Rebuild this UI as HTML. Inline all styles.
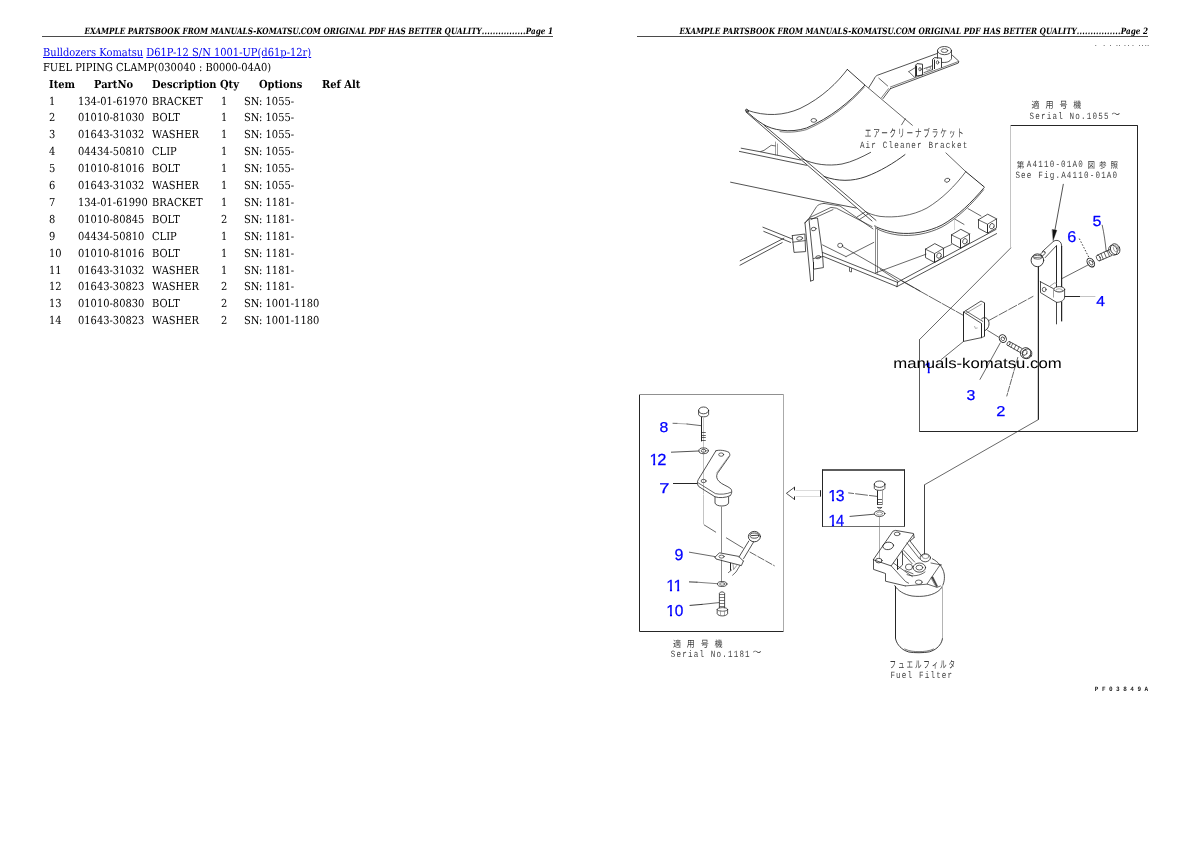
<!DOCTYPE html>
<html lang="en"><head><meta charset="utf-8"><title>FUEL PIPING CLAMP</title>
<style>
html,body{margin:0;padding:0;background:#fff;}
body{width:1190px;height:842px;position:relative;overflow:hidden;font-family:"DejaVu Serif","Liberation Serif",serif;color:#000;}
#page{position:absolute;left:0;top:0;width:1190px;height:842px;will-change:transform;background:#fff;text-rendering:geometricPrecision;}
.t{position:absolute;white-space:nowrap;line-height:1;}
.hd{font-style:italic;font-weight:bold;font-size:8.7px;text-align:right;width:600px;transform:scaleX(0.8352);transform-origin:100% 50%;}
.rule{position:absolute;height:1px;background:#4a4a4a;width:511px;}
.b{font-size:11px;transform:scaleX(0.9);transform-origin:0 0;}
.th{font-weight:bold;}
a{color:#0000ee;text-decoration:underline;text-underline-offset:1px;text-decoration-thickness:1px;}
svg{position:absolute;left:0;top:0;}
</style></head>
<body>
<div id="page">
<div class="t hd" style="left:-46.6px;top:27.5px">EXAMPLE PARTSBOOK FROM MANUALS-KOMATSU.COM ORIGINAL PDF HAS BETTER QUALITY<span style="letter-spacing:0.27px">................</span>Page 1</div>
<div class="rule" style="left:42px;top:36px"></div>
<div class="t hd" style="left:548.4px;top:27.5px">EXAMPLE PARTSBOOK FROM MANUALS-KOMATSU.COM ORIGINAL PDF HAS BETTER QUALITY<span style="letter-spacing:0.27px">................</span>Page 2</div>
<div class="rule" style="left:637px;top:36px"></div>
<div class="t b" style="left:42.6px;top:47.2px;"><a>Bulldozers Komatsu</a> <a>D61P-12 S/N 1001-UP(d61p-12r)</a></div>
<div class="t b" style="left:42.6px;top:61.7px;">FUEL PIPING CLAMP(030040 : B0000-04A0)</div>
<div class="t b th" style="left:48.8px;top:78.8px;">Item</div>
<div class="t b th" style="left:94.3px;top:78.8px;">PartNo</div>
<div class="t b th" style="left:152.3px;top:78.8px;">Description</div>
<div class="t b th" style="left:219.8px;top:78.8px;">Qty</div>
<div class="t b th" style="left:258.6px;top:78.8px;">Options</div>
<div class="t b th" style="left:322.2px;top:78.8px;">Ref Alt</div>
<div class="t b" style="left:49.4px;top:96.0px;">1</div>
<div class="t b" style="left:78.4px;top:96.0px;">134-01-61970</div>
<div class="t b" style="left:152.3px;top:96.0px;">BRACKET</div>
<div class="t b" style="left:220.8px;top:96.0px;">1</div>
<div class="t b" style="left:243.5px;top:96.0px;">SN: 1055-</div>
<div class="t b" style="left:49.4px;top:112.0px;">2</div>
<div class="t b" style="left:78.4px;top:112.0px;">01010-81030</div>
<div class="t b" style="left:152.3px;top:112.0px;">BOLT</div>
<div class="t b" style="left:220.8px;top:112.0px;">1</div>
<div class="t b" style="left:243.5px;top:112.0px;">SN: 1055-</div>
<div class="t b" style="left:49.4px;top:129.0px;">3</div>
<div class="t b" style="left:78.4px;top:129.0px;">01643-31032</div>
<div class="t b" style="left:152.3px;top:129.0px;">WASHER</div>
<div class="t b" style="left:220.8px;top:129.0px;">1</div>
<div class="t b" style="left:243.5px;top:129.0px;">SN: 1055-</div>
<div class="t b" style="left:49.4px;top:146.0px;">4</div>
<div class="t b" style="left:78.4px;top:146.0px;">04434-50810</div>
<div class="t b" style="left:152.3px;top:146.0px;">CLIP</div>
<div class="t b" style="left:220.8px;top:146.0px;">1</div>
<div class="t b" style="left:243.5px;top:146.0px;">SN: 1055-</div>
<div class="t b" style="left:49.4px;top:163.0px;">5</div>
<div class="t b" style="left:78.4px;top:163.0px;">01010-81016</div>
<div class="t b" style="left:152.3px;top:163.0px;">BOLT</div>
<div class="t b" style="left:220.8px;top:163.0px;">1</div>
<div class="t b" style="left:243.5px;top:163.0px;">SN: 1055-</div>
<div class="t b" style="left:49.4px;top:180.0px;">6</div>
<div class="t b" style="left:78.4px;top:180.0px;">01643-31032</div>
<div class="t b" style="left:152.3px;top:180.0px;">WASHER</div>
<div class="t b" style="left:220.8px;top:180.0px;">1</div>
<div class="t b" style="left:243.5px;top:180.0px;">SN: 1055-</div>
<div class="t b" style="left:49.4px;top:197.0px;">7</div>
<div class="t b" style="left:78.4px;top:197.0px;">134-01-61990</div>
<div class="t b" style="left:152.3px;top:197.0px;">BRACKET</div>
<div class="t b" style="left:220.8px;top:197.0px;">1</div>
<div class="t b" style="left:243.5px;top:197.0px;">SN: 1181-</div>
<div class="t b" style="left:49.4px;top:214.0px;">8</div>
<div class="t b" style="left:78.4px;top:214.0px;">01010-80845</div>
<div class="t b" style="left:152.3px;top:214.0px;">BOLT</div>
<div class="t b" style="left:220.8px;top:214.0px;">2</div>
<div class="t b" style="left:243.5px;top:214.0px;">SN: 1181-</div>
<div class="t b" style="left:49.4px;top:231.0px;">9</div>
<div class="t b" style="left:78.4px;top:231.0px;">04434-50810</div>
<div class="t b" style="left:152.3px;top:231.0px;">CLIP</div>
<div class="t b" style="left:220.8px;top:231.0px;">1</div>
<div class="t b" style="left:243.5px;top:231.0px;">SN: 1181-</div>
<div class="t b" style="left:49.4px;top:248.0px;">10</div>
<div class="t b" style="left:78.4px;top:248.0px;">01010-81016</div>
<div class="t b" style="left:152.3px;top:248.0px;">BOLT</div>
<div class="t b" style="left:220.8px;top:248.0px;">1</div>
<div class="t b" style="left:243.5px;top:248.0px;">SN: 1181-</div>
<div class="t b" style="left:49.4px;top:265.0px;">11</div>
<div class="t b" style="left:78.4px;top:265.0px;">01643-31032</div>
<div class="t b" style="left:152.3px;top:265.0px;">WASHER</div>
<div class="t b" style="left:220.8px;top:265.0px;">1</div>
<div class="t b" style="left:243.5px;top:265.0px;">SN: 1181-</div>
<div class="t b" style="left:49.4px;top:281.0px;">12</div>
<div class="t b" style="left:78.4px;top:281.0px;">01643-30823</div>
<div class="t b" style="left:152.3px;top:281.0px;">WASHER</div>
<div class="t b" style="left:220.8px;top:281.0px;">2</div>
<div class="t b" style="left:243.5px;top:281.0px;">SN: 1181-</div>
<div class="t b" style="left:49.4px;top:298.0px;">13</div>
<div class="t b" style="left:78.4px;top:298.0px;">01010-80830</div>
<div class="t b" style="left:152.3px;top:298.0px;">BOLT</div>
<div class="t b" style="left:220.8px;top:298.0px;">2</div>
<div class="t b" style="left:243.5px;top:298.0px;">SN: 1001-1180</div>
<div class="t b" style="left:49.4px;top:315.0px;">14</div>
<div class="t b" style="left:78.4px;top:315.0px;">01643-30823</div>
<div class="t b" style="left:152.3px;top:315.0px;">WASHER</div>
<div class="t b" style="left:220.8px;top:315.0px;">2</div>
<div class="t b" style="left:243.5px;top:315.0px;">SN: 1001-1180</div>
<svg width="1190" height="842" viewBox="0 0 1190 842" stroke-linecap="round" stroke-linejoin="round">
<style>.n{font-family:"Liberation Sans",Arial,sans-serif;fill:#0000ff;stroke:#0000ff;stroke-width:0.25px}.m{font-family:"Liberation Mono","DejaVu Sans Mono",monospace}.j{font-family:"Noto Sans CJK JP","IPAGothic",sans-serif}.w{font-family:"Liberation Sans",Arial,sans-serif;fill:#000}</style>
<path d="M1010.4,125.5 L1137.6,125.5" stroke="#262626" stroke-width="1" fill="none" stroke-linecap="butt"/>
<path d="M1137.5,125.3 L1137.5,431.2" stroke="#262626" stroke-width="1" fill="none" stroke-linecap="butt"/>
<path d="M919.2,431.5 L1137.6,431.5" stroke="#262626" stroke-width="1" fill="none" stroke-linecap="butt"/>
<path d="M919.5,431.2 L919.5,339.7" stroke="#5a5a5a" stroke-width="1" fill="none" stroke-linecap="butt"/>
<path d="M919.4,339.7 L1010.7,248.0" stroke="#262626" stroke-width="0.7" fill="none" />
<path d="M1010.5,248.0 L1010.5,125.3" stroke="#c4c4c4" stroke-width="1" fill="none" stroke-linecap="butt"/>
<path d="M639.5,394.7 L639.5,631.4" stroke="#262626" stroke-width="1" fill="none" stroke-linecap="butt"/>
<path d="M639.4,631.5 L783.6,631.5" stroke="#262626" stroke-width="1" fill="none" stroke-linecap="butt"/>
<path d="M783.5,631.4 L783.5,394.7" stroke="#aaa" stroke-width="1" fill="none" stroke-linecap="butt"/>
<path d="M783.6,394.5 L639.4,394.5" stroke="#909090" stroke-width="1" fill="none" stroke-linecap="butt"/>
<path d="M822,470 H905" stroke="#5c5c5c" stroke-width="2" fill="none" stroke-linecap="butt"/>
<path d="M904.5,469.7 L904.5,526.9" stroke="#262626" stroke-width="1" fill="none" stroke-linecap="butt"/>
<path d="M904.6,526.5 L822.4,526.5" stroke="#6a6a6a" stroke-width="1" fill="none" stroke-linecap="butt"/>
<path d="M822.5,526.9 L822.5,469.7" stroke="#262626" stroke-width="1" fill="none" stroke-linecap="butt"/>
<path d="M1038.4,266.5 V419.7" stroke="#262626" stroke-width="1.25" fill="none" stroke-linecap="butt"/>
<path d="M1038.2,419.7 L924.5,484.8" stroke="#262626" stroke-width="0.7" fill="none" />
<path d="M924.5,484.8 L924.5,554.0" stroke="#444" stroke-width="1" fill="none" stroke-linecap="butt"/>
<path d="M794.7,487.1 L786.4,493.3 L794.7,499.6" stroke="#262626" stroke-width="0.8" fill="none" />
<path d="M794.5,487.1 L794.5,490.4" stroke="#262626" stroke-width="1" fill="none" stroke-linecap="butt"/>
<path d="M794.5,496.4 L794.5,499.6" stroke="#262626" stroke-width="1" fill="none" stroke-linecap="butt"/>
<path d="M795.6,490.5 L820.2,490.5" stroke="#dcdcdc" stroke-width="1" fill="none" stroke-linecap="butt"/>
<path d="M795.6,496.5 L820.2,496.5" stroke="#dcdcdc" stroke-width="1" fill="none" stroke-linecap="butt"/>
<path d="M820.5,490.2 L820.5,496.6" stroke="#262626" stroke-width="1" fill="none" stroke-linecap="butt"/>
<path d="M1063.3,184.3 L1054.2,234.0" stroke="#262626" stroke-width="0.8" fill="none" />
<path d="M1052.4,229.6 L1056.8,230.3 L1053.2,240.2 Z" fill="#111" stroke="#111" stroke-width="0.4"/>
<path d="M1056.5,245.5 L1056.5,287.0" stroke="#262626" stroke-width="1" fill="none" stroke-linecap="butt"/>
<path d="M1056.5,302.4 L1056.5,324.3" stroke="#444" stroke-width="1" fill="none" stroke-linecap="butt"/>
<path d="M1061.6,246 V287" stroke="#262626" stroke-width="1.2" fill="none" stroke-linecap="butt"/>
<path d="M1061.6,301.6 V321.4" stroke="#262626" stroke-width="1.25" fill="none" stroke-linecap="butt"/>
<path d="M1061.7,246 C1061.7,242.5 1059.5,240.6 1057,240.4 C1055.6,240.3 1054.5,240.6 1053.6,241.2" stroke="#262626" stroke-width="0.8" fill="none" />
<path d="M1053.6,241.2 L1042.3,251.6" stroke="#262626" stroke-width="0.8" fill="none" />
<path d="M1056.4,245.7 L1045.2,257.6" stroke="#262626" stroke-width="0.8" fill="none" />
<ellipse cx="1043.0" cy="253.6" rx="2.6" ry="1.6" stroke="#262626" stroke-width="0.7" fill="none" transform="rotate(-40 1043.0 253.6)"/>
<ellipse cx="1037.4" cy="260.3" rx="6.3" ry="6.4" stroke="#262626" stroke-width="0.9" fill="none"/>
<ellipse cx="1037.6" cy="257.2" rx="4.6" ry="1.9" stroke="#262626" stroke-width="0.7" fill="none"/>
<path d="M1034.2,257.6 L1041.0,257.2" stroke="#262626" stroke-width="0.6" fill="none" />
<path d="M1040.5,281.6 L1040.5,292.6 L1056.6,302.4" stroke="#262626" stroke-width="0.8" fill="none" />
<path d="M1040.2,281.6 L1053.4,288.6" stroke="#262626" stroke-width="0.8" fill="none" />
<path d="M1049.6,286.4 L1054.5,282.9 L1056.4,283.4" stroke="#777" stroke-width="0.7" fill="none" />
<ellipse cx="1044.2" cy="289.5" rx="1.9" ry="2.2" stroke="#262626" stroke-width="0.7" fill="none"/>
<ellipse cx="1059.3" cy="289.3" rx="5.4" ry="2.7" stroke="#262626" stroke-width="0.8" fill="none"/>
<ellipse cx="1059.2" cy="290.3" rx="3.4" ry="1.5" stroke="#777" stroke-width="0.6" fill="none"/>
<path d="M1053.5,289.6 L1053.5,297.5" stroke="#777" stroke-width="0.7" fill="none" stroke-linecap="butt"/>
<path d="M1064.6,289.6 L1064.6,297 C1064.6,300 1061.5,302.3 1056.6,302.4" stroke="#262626" stroke-width="0.8" fill="none" />
<path d="M1064.6,296.5 L1080.0,296.5" stroke="#262626" stroke-width="1" fill="none" stroke-linecap="butt"/>
<path d="M1080.0,296.5 L1095.4,296.5" stroke="#c4c4c4" stroke-width="1" fill="none" stroke-linecap="butt"/>
<path d="M1062.3,278.4 L1087.6,265.2" stroke="#262626" stroke-width="0.7" fill="none" />
<ellipse cx="1090.8" cy="262.6" rx="3.2" ry="4.8" stroke="#262626" stroke-width="1.0" fill="none" transform="rotate(-35 1090.8 262.6)"/>
<ellipse cx="1091.0" cy="262.6" rx="1.6" ry="2.7" stroke="#262626" stroke-width="0.7" fill="none" transform="rotate(-35 1091.0 262.6)"/>
<path d="M1079.3,238.6 L1089,257.6" stroke="#262626" stroke-width="0.9" fill="none" stroke-dasharray="1.5 1.7" stroke-linecap="butt"/>
<path d="M1102.2,225.2 C1104,233 1105.4,243 1106.2,251.5" stroke="#262626" stroke-width="0.7" fill="none" />
<path d="M1097.2,255.2 L1109.6,249.6" stroke="#262626" stroke-width="0.8" fill="none" />
<path d="M1099.6,260.8 L1111.6,255.6" stroke="#262626" stroke-width="0.8" fill="none" />
<ellipse cx="1098.4" cy="258.0" rx="1.8" ry="3.0" stroke="#262626" stroke-width="0.7" fill="none" transform="rotate(-25 1098.4 258.0)"/>
<path d="M1100.9,253.5 L1103.2,259.0" stroke="#262626" stroke-width="0.7" fill="none" />
<path d="M1104.0,252.1 L1106.3,257.6" stroke="#262626" stroke-width="0.7" fill="none" />
<path d="M1107.1,250.7 L1109.4,256.2" stroke="#262626" stroke-width="0.7" fill="none" />
<ellipse cx="1115.2" cy="249.2" rx="4.6" ry="5.6" stroke="#262626" stroke-width="0.8" fill="none" transform="rotate(-25 1115.2 249.2)"/>
<ellipse cx="1113.0" cy="250.2" rx="4.2" ry="5.2" stroke="#262626" stroke-width="0.7" fill="none" transform="rotate(-25 1113.0 250.2)"/>
<ellipse cx="1116.0" cy="248.8" rx="2.4" ry="3.2" stroke="#777" stroke-width="0.6" fill="none" transform="rotate(-25 1116.0 248.8)"/>
<path d="M989.4,320.2 L1033,296.4" stroke="#262626" stroke-width="0.7" fill="none" stroke-dasharray="9 2"/>
<path d="M963.5,312.0 L963.5,341.4" stroke="#262626" stroke-width="1" fill="none" stroke-linecap="butt"/>
<path d="M963.6,341.4 L981.6,337.6" stroke="#262626" stroke-width="0.8" fill="none" />
<path d="M981.5,337.6 L981.5,323.5" stroke="#262626" stroke-width="1" fill="none" stroke-linecap="butt"/>
<path d="M984.5,336.4 L984.5,302.8" stroke="#262626" stroke-width="1" fill="none" stroke-linecap="butt"/>
<path d="M981.6,337.6 L984.4,336.4" stroke="#262626" stroke-width="0.7" fill="none" />
<path d="M963.6,312.0 L981.0,301.0 L984.4,302.8" stroke="#262626" stroke-width="0.8" fill="none" />
<path d="M966.4,313.0 L981.4,304.2" stroke="#777" stroke-width="0.7" fill="none" />
<path d="M963.6,312.0 L981.6,323.5" stroke="#262626" stroke-width="0.8" fill="none" />
<path d="M966.0,311.0 L982.8,321.4" stroke="#262626" stroke-width="0.7" fill="none" />
<path d="M981.6,318.8 C984,316.6 987.4,317.6 988.6,321 C989.8,324.6 988.4,329 985,330.6" stroke="#262626" stroke-width="0.9" fill="none" />
<path d="M974.6,326.4 L975.4,328.4 L977.2,328.0" stroke="#777" stroke-width="0.6" fill="none" />
<path d="M963.6,341.4 L941.4,359.4" stroke="#262626" stroke-width="0.7" fill="none" />
<path d="M901.8,281 L963.4,315.4" stroke="#262626" stroke-width="0.7" fill="none" stroke-dasharray="14 1.5"/>
<path d="M987.6,330.4 L999.0,337.4" stroke="#262626" stroke-width="0.7" fill="none" />
<ellipse cx="1002.8" cy="338.6" rx="3.4" ry="4.0" stroke="#262626" stroke-width="0.9" fill="none" transform="rotate(-30 1002.8 338.6)"/>
<ellipse cx="1002.8" cy="338.8" rx="1.6" ry="2.0" stroke="#262626" stroke-width="0.7" fill="none" transform="rotate(-30 1002.8 338.8)"/>
<path d="M1000.2,343.0 L980.0,379.4" stroke="#262626" stroke-width="0.7" fill="none" />
<path d="M1009.6,341.6 L1022.2,348.6" stroke="#262626" stroke-width="0.8" fill="none" />
<path d="M1007.8,345.4 L1020.4,352.6" stroke="#262626" stroke-width="0.8" fill="none" />
<ellipse cx="1008.6" cy="343.6" rx="1.4" ry="2.2" stroke="#262626" stroke-width="0.7" fill="none" transform="rotate(30 1008.6 343.6)"/>
<path d="M1012.8,343.4 L1011.0,347.2" stroke="#262626" stroke-width="0.7" fill="none" />
<path d="M1015.9,345.1 L1014.1,349.0" stroke="#262626" stroke-width="0.7" fill="none" />
<path d="M1019.1,346.9 L1017.3,350.8" stroke="#262626" stroke-width="0.7" fill="none" />
<ellipse cx="1025.6" cy="353.0" rx="5.2" ry="5.4" stroke="#262626" stroke-width="0.8" fill="none" transform="rotate(30 1025.6 353.0)"/>
<ellipse cx="1027.2" cy="353.8" rx="4.6" ry="5.0" stroke="#262626" stroke-width="0.8" fill="none" transform="rotate(30 1027.2 353.8)"/>
<ellipse cx="1024.6" cy="352.6" rx="2.4" ry="2.8" stroke="#262626" stroke-width="0.7" fill="none" transform="rotate(30 1024.6 352.6)"/>
<path d="M1017.8,357.4 L1006.8,396" stroke="#262626" stroke-width="0.7" fill="none" stroke-dasharray="6 1.5"/>
<ellipse cx="703.6" cy="410.4" rx="5.0" ry="3.4" stroke="#262626" stroke-width="0.8" fill="none"/>
<path d="M698.6,410.4 L698.6,414.6 C699.6,417.6 707.6,417.6 708.6,414.6 L708.6,410.4" stroke="#262626" stroke-width="0.8" fill="none" />
<path d="M701.5,417.0 L701.5,441.4" stroke="#262626" stroke-width="1" fill="none" stroke-linecap="butt"/>
<path d="M703.5,417.0 L703.5,494.0" stroke="#c4c4c4" stroke-width="1" fill="none" stroke-linecap="butt"/>
<path d="M701.4,432.5 L705.8,432.5" stroke="#262626" stroke-width="0.7" fill="none" stroke-linecap="butt"/>
<path d="M701.4,435.5 L705.8,435.5" stroke="#262626" stroke-width="0.7" fill="none" stroke-linecap="butt"/>
<path d="M701.4,437.5 L705.8,437.5" stroke="#262626" stroke-width="0.7" fill="none" stroke-linecap="butt"/>
<path d="M701.4,440.5 L705.8,440.5" stroke="#262626" stroke-width="0.7" fill="none" stroke-linecap="butt"/>
<path d="M673.0,423.3 L677.0,423.4" stroke="#262626" stroke-width="0.7" fill="none" />
<path d="M677.0,423.4 L687.0,424.0" stroke="#777" stroke-width="0.6" fill="none" />
<path d="M687.0,424.0 L701.4,425.7" stroke="#262626" stroke-width="0.7" fill="none" />
<ellipse cx="703.6" cy="450.8" rx="4.7" ry="2.9" stroke="#262626" stroke-width="0.8" fill="none"/>
<ellipse cx="703.6" cy="450.8" rx="2.4" ry="1.5" stroke="#262626" stroke-width="0.7" fill="none"/>
<path d="M671.4,452.2 L698.8,451.0" stroke="#262626" stroke-width="0.8" fill="none" />
<path d="M715.9,450.8 C719,449.4 726,450.6 729,452.4 C730,454 730,455.4 729.4,456.4 L717.4,473.4 C716,476 716.6,479 719,481.4 C722,484.6 727.6,486 730.6,488.6 C732.4,490.4 732,494 730,495.8" stroke="#262626" stroke-width="0.8" fill="none" />
<path d="M715.9,450.8 L698.4,479.4 C697,481.6 697,484.6 698.8,486.6 L715,496.8 C719,498.2 726,497.8 730,495.8" stroke="#262626" stroke-width="0.8" fill="none" />
<path d="M698.4,483 L715.4,493.6 C720,494.8 727,494.2 731.2,492.2" stroke="#262626" stroke-width="0.7" fill="none" />
<path d="M728.6,456.4 L716.6,473.0" stroke="#777" stroke-width="0.6" fill="none" />
<ellipse cx="721.2" cy="454.6" rx="2.5" ry="1.7" stroke="#262626" stroke-width="0.7" fill="none"/>
<ellipse cx="703.6" cy="481.0" rx="2.5" ry="1.7" stroke="#262626" stroke-width="0.7" fill="none"/>
<path d="M673.0,483.5 L697.2,483.5" stroke="#262626" stroke-width="1" fill="none" stroke-linecap="butt"/>
<path d="M715,497.2 L715,503 C716,507 727.6,507 728.6,503 L728.6,497.2" stroke="#262626" stroke-width="0.8" fill="none" />
<path d="M703.5,494.5 L703.5,524.4" stroke="#c4c4c4" stroke-width="1" fill="none" stroke-linecap="butt"/>
<path d="M704.3,525.0 L715.7,532.1" stroke="#262626" stroke-width="0.7" fill="none" />
<path d="M721.5,506.4 L721.5,552.8" stroke="#8a8a8a" stroke-width="1" fill="none" stroke-linecap="butt"/>
<path d="M721.5,559.6 L721.5,581.6" stroke="#8a8a8a" stroke-width="1" fill="none" stroke-linecap="butt"/>
<path d="M726.4,537.9 L743,548" stroke="#262626" stroke-width="0.7" fill="none" />
<path d="M750,552.1 L774.3,565.7" stroke="#262626" stroke-width="0.7" fill="none" stroke-dasharray="7 2"/>
<ellipse cx="754.4" cy="536.6" rx="6.0" ry="5.2" stroke="#262626" stroke-width="0.9" fill="none"/>
<ellipse cx="754.4" cy="535.6" rx="4.4" ry="2.6" stroke="#262626" stroke-width="0.8" fill="none"/>
<path d="M751.4,535.6 L757.6,535.2" stroke="#262626" stroke-width="0.9" fill="none" />
<path d="M748.8,541.0 L739.0,557.0" stroke="#262626" stroke-width="0.8" fill="none" />
<path d="M753.6,542.0 L743.6,558.6" stroke="#262626" stroke-width="0.8" fill="none" />
<path d="M715.0,557.2 L719.4,552.8 L738.6,556.4 L743.4,561.0" stroke="#262626" stroke-width="0.8" fill="none" />
<path d="M715.0,557.2 L716.0,559.0 L741.4,565.6 L743.4,561.0" stroke="#262626" stroke-width="0.8" fill="none" />
<ellipse cx="721.6" cy="556.6" rx="2.6" ry="1.5" stroke="#262626" stroke-width="0.7" fill="none"/>
<path d="M730.5,562.8 L730.5,570.6" stroke="#262626" stroke-width="1" fill="none" stroke-linecap="butt"/>
<path d="M733.0,563.6 L733.6,569.6 L736.6,565.6" stroke="#777" stroke-width="0.7" fill="none" />
<path d="M740.0,565.4 L736.0,572.0 L732.6,575.2" stroke="#262626" stroke-width="0.7" fill="none" />
<path d="M728.4,572.6 L731.6,570.0" stroke="#262626" stroke-width="0.7" fill="none" />
<path d="M689.4,552.2 L715.0,556.6" stroke="#262626" stroke-width="0.7" fill="none" />
<ellipse cx="722.2" cy="584.0" rx="4.7" ry="2.5" stroke="#262626" stroke-width="0.8" fill="none"/>
<ellipse cx="722.2" cy="584.0" rx="2.6" ry="1.3" stroke="#262626" stroke-width="0.6" fill="none"/>
<path d="M689.4,581.9 L697.0,582.2" stroke="#262626" stroke-width="0.9" fill="none" />
<path d="M697.0,582.2 L717.4,583.7" stroke="#262626" stroke-width="0.6" fill="none" />
<path d="M719.4,607.8 L719.4,593.2 C720,591.4 724,591.4 724.6,593.2 L724.6,607.8" stroke="#262626" stroke-width="0.8" fill="none" />
<path d="M719.4,594.5 L724.6,594.5" stroke="#262626" stroke-width="0.6" fill="none" stroke-linecap="butt"/>
<path d="M719.4,597.5 L724.6,597.5" stroke="#262626" stroke-width="0.6" fill="none" stroke-linecap="butt"/>
<path d="M719.4,600.5 L724.6,600.5" stroke="#262626" stroke-width="0.6" fill="none" stroke-linecap="butt"/>
<path d="M719.4,603.5 L724.6,603.5" stroke="#262626" stroke-width="0.6" fill="none" stroke-linecap="butt"/>
<path d="M719.4,606.5 L724.6,606.5" stroke="#262626" stroke-width="0.6" fill="none" stroke-linecap="butt"/>
<path d="M717.2,609.4 L717.2,613.8 C718.6,616.6 726,616.6 727.6,613.8 L727.6,609.4" stroke="#262626" stroke-width="0.8" fill="none" />
<ellipse cx="722.4" cy="609.4" rx="5.2" ry="1.8" stroke="#262626" stroke-width="0.7" fill="none"/>
<path d="M720.5,610.6 L720.5,615.4" stroke="#777" stroke-width="0.6" fill="none" stroke-linecap="butt"/>
<path d="M724.5,610.6 L724.5,615.4" stroke="#777" stroke-width="0.6" fill="none" stroke-linecap="butt"/>
<path d="M690.0,605.4 L702.0,604.4" stroke="#262626" stroke-width="0.9" fill="none" />
<path d="M702.0,604.4 L719.0,602.6" stroke="#262626" stroke-width="0.7" fill="none" />
<ellipse cx="879.6" cy="484.2" rx="5.3" ry="3.2" stroke="#262626" stroke-width="0.8" fill="none"/>
<path d="M874.3,484.2 L874.3,488.4 C875.4,491 883.8,491 884.9,488.4 L884.9,484.2" stroke="#262626" stroke-width="0.8" fill="none" />
<path d="M877.5,490.4 L877.5,505.0" stroke="#262626" stroke-width="1" fill="none" stroke-linecap="butt"/>
<path d="M882.5,490.4 L882.5,505.0" stroke="#777" stroke-width="0.7" fill="none" stroke-linecap="butt"/>
<path d="M877.4,499.5 L882.0,499.5" stroke="#262626" stroke-width="0.7" fill="none" stroke-linecap="butt"/>
<path d="M877.4,502.5 L882.0,502.5" stroke="#262626" stroke-width="0.7" fill="none" stroke-linecap="butt"/>
<path d="M877.4,504.5 L882.0,504.5" stroke="#262626" stroke-width="0.7" fill="none" stroke-linecap="butt"/>
<path d="M877.4,507.5 L882.0,507.5" stroke="#262626" stroke-width="0.7" fill="none" stroke-linecap="butt"/>
<path d="M877.6,507.4 L879.6,509.0 L881.8,507.4" stroke="#262626" stroke-width="0.7" fill="none" />
<path d="M848.6,492.9 L877,496.4" stroke="#262626" stroke-width="0.7" fill="none" stroke-dasharray="5 2 12 2 20 0"/>
<ellipse cx="879.6" cy="513.6" rx="5.3" ry="2.9" stroke="#262626" stroke-width="0.8" fill="none"/>
<ellipse cx="879.6" cy="513.6" rx="3.0" ry="1.5" stroke="#777" stroke-width="0.7" fill="none"/>
<path d="M850.0,516.4 L874.4,514.2" stroke="#262626" stroke-width="0.8" fill="none" />
<path d="M879.5,516.6 L879.5,558.6" stroke="#777" stroke-width="0.6" fill="none" stroke-linecap="butt"/>
<path d="M847.3,69.4 C838,82 822,98 800,108.5 C784,115.5 766,117 746.5,110" stroke="#262626" stroke-width="0.8" fill="none" />
<path d="M864.7,85.3 C850,102 830,118 806.5,128 C790,133.5 772,130 762.9,124.1 C756,120 750,114.5 745.9,110.6" stroke="#262626" stroke-width="0.9" fill="none" />
<path d="M864.4,87 C850,103.6 830,119.6 806.5,129.6 C796,132.6 786,132.6 780,131.6" stroke="#262626" stroke-width="0.6" fill="none" />
<path d="M847.3,69.4 L864.7,84.9" stroke="#262626" stroke-width="0.9" fill="none" />
<ellipse cx="813.8" cy="120.4" rx="2.8" ry="1.9" stroke="#262626" stroke-width="0.7" fill="none"/>
<ellipse cx="747.0" cy="110.6" rx="1.6" ry="1.2" stroke="#262626" stroke-width="0.8" fill="none" transform="rotate(35 747.0 110.6)"/>
<path d="M864.7,84.9 L912.4,125.3" stroke="#262626" stroke-width="0.7" fill="none" />
<path d="M905.3,118.8 L901.6,124.8" stroke="#262626" stroke-width="0.7" fill="none" />
<path d="M745.9,112.0 L872.0,221.0" stroke="#262626" stroke-width="0.8" fill="none" />
<path d="M764.1,125.3 L876.0,220.4" stroke="#262626" stroke-width="0.8" fill="none" />
<path d="M775.5,141.6 L775.5,155.3" stroke="#777" stroke-width="0.7" fill="none" stroke-linecap="butt"/>
<path d="M777.5,143.6 L777.5,155.3" stroke="#777" stroke-width="0.7" fill="none" stroke-linecap="butt"/>
<path d="M760.6,151.6 L764.0,150.4 L771.2,145.3 L775.3,145.9" stroke="#262626" stroke-width="0.7" fill="none" />
<path d="M741.2,148.2 L760.6,151.8 L800.6,160.0" stroke="#262626" stroke-width="0.8" fill="none" />
<path d="M739.4,151.4 L806.5,165.3" stroke="#262626" stroke-width="0.8" fill="none" />
<path d="M801.8,158.8 C814,164.6 828,166.4 842,164 C852,162 862,157 870.6,152.4" stroke="#262626" stroke-width="0.8" fill="none" />
<path d="M905,154.6 C894,163 880,171.4 866,176.6 C852,181.6 838,181.6 824.1,176.5" stroke="#262626" stroke-width="0.9" fill="none" />
<path d="M945.9,152.9 L965.7,171.6" stroke="#262626" stroke-width="0.7" fill="none" />
<path d="M965.7,171.6 L984.2,186.9" stroke="#262626" stroke-width="1.0" fill="none" />
<path d="M965.7,171.8 C955,186 942,199 927,208 C912,216 895,218 880,216.4 C874,215.4 869,213.6 866,212" stroke="#262626" stroke-width="0.7" fill="none" />
<path d="M984,187.7 C972,202 958,216 942,225 C928,232 912,234.6 898,233 C888,231.6 880,229 874.6,226" stroke="#262626" stroke-width="0.9" fill="none" />
<path d="M983.6,189.8 C972,204 958,218 942,227 C928,234 912,236.6 898,235 C890,234 882,231.6 876.4,228.6" stroke="#262626" stroke-width="0.7" fill="none" />
<ellipse cx="947.2" cy="180.2" rx="2.6" ry="1.9" stroke="#262626" stroke-width="0.7" fill="none" transform="rotate(-20 947.2 180.2)"/>
<path d="M730.6,182.2 L824.1,201.8 L856.0,208.0" stroke="#262626" stroke-width="0.8" fill="none" />
<path d="M824,203.4 C820,203.6 818,205 816.6,206.6 L809.6,217.6 L805,222.6" stroke="#262626" stroke-width="0.7" fill="none" />
<path d="M809.6,217.6 L831.0,207.4 L836.4,208.2 L872.0,226.6" stroke="#262626" stroke-width="0.7" fill="none" />
<path d="M811.0,219.6 L833.0,209.6" stroke="#262626" stroke-width="0.7" fill="none" />
<path d="M824.0,203.4 L840.0,206.0 L873.0,228.9" stroke="#262626" stroke-width="0.7" fill="none" />
<path d="M857.0,217.0 L865.3,211.8" stroke="#262626" stroke-width="0.7" fill="none" />
<path d="M859.6,219.4 L868.0,214.0" stroke="#262626" stroke-width="0.7" fill="none" />
<path d="M875.5,225.6 L875.5,273.5" stroke="#8a8a8a" stroke-width="1" fill="none" stroke-linecap="butt"/>
<path d="M877.5,228.0 L877.5,273.5" stroke="#8a8a8a" stroke-width="1" fill="none" stroke-linecap="butt"/>
<path d="M805.0,223.0 L809.0,218.8 L817.5,218.0 L822.5,254.1 L823.4,267.6 L813.5,269.2 L813.5,280.2 L810.6,281.0" stroke="#262626" stroke-width="0.8" fill="none" />
<path d="M805.0,223.0 L810.6,281.0" stroke="#262626" stroke-width="0.8" fill="none" />
<path d="M809.0,219.4 L813.3,262.0" stroke="#262626" stroke-width="0.8" fill="none" />
<path d="M813.5,262.0 L813.5,269.2" stroke="#262626" stroke-width="1" fill="none" stroke-linecap="butt"/>
<path d="M813.3,258.6 L822.7,256.6" stroke="#262626" stroke-width="0.7" fill="none" />
<ellipse cx="813.6" cy="229.0" rx="2.5" ry="1.7" stroke="#262626" stroke-width="0.7" fill="none" transform="rotate(-10 813.6 229.0)"/>
<ellipse cx="818.2" cy="257.2" rx="2.5" ry="1.5" stroke="#262626" stroke-width="0.7" fill="none" transform="rotate(-10 818.2 257.2)"/>
<path d="M792.3,235.6 L804.9,234.0 L805.6,251.6 L794.0,252.4 L792.3,235.6" stroke="#262626" stroke-width="0.8" fill="none" />
<path d="M792.6,242.2 L805.2,240.6" stroke="#262626" stroke-width="0.7" fill="none" />
<ellipse cx="799.6" cy="238.4" rx="3.0" ry="1.8" stroke="#262626" stroke-width="0.7" fill="none" transform="rotate(-8 799.6 238.4)"/>
<path d="M740.2,260.8 L783.9,238.2" stroke="#262626" stroke-width="0.8" fill="none" />
<path d="M740.0,265.2 L782.2,242.6" stroke="#262626" stroke-width="0.8" fill="none" />
<path d="M762.9,227.2 L792.3,239.0" stroke="#262626" stroke-width="0.8" fill="none" />
<path d="M763.8,231.4 L790.6,242.4" stroke="#262626" stroke-width="0.8" fill="none" />
<ellipse cx="840.2" cy="245.4" rx="2.5" ry="2.2" stroke="#262626" stroke-width="0.7" fill="none"/>
<path d="M842.6,246.6 L920.0,291.0" stroke="#262626" stroke-width="0.7" fill="none" />
<path d="M846.0,256.6 L873.8,242.4" stroke="#262626" stroke-width="0.7" fill="none" />
<path d="M822.5,244.9 L846.0,256.6" stroke="#262626" stroke-width="0.7" fill="none" />
<path d="M822.4,252.4 L897.6,282.4" stroke="#262626" stroke-width="0.8" fill="none" />
<path d="M823.5,256.5 L896.8,286.5" stroke="#262626" stroke-width="0.8" fill="none" />
<path d="M897.6,282.2 L897.0,286.6" stroke="#262626" stroke-width="0.8" fill="none" />
<path d="M849.5,267.6 L849.5,271.4 L851.5,272.0 L851.5,268.6" stroke="#262626" stroke-width="0.7" fill="none" />
<path d="M876.3,272.6 L926.0,254.2" stroke="#262626" stroke-width="0.7" fill="none" />
<path d="M897.6,282.2 L996.0,229.4" stroke="#262626" stroke-width="0.8" fill="none" />
<path d="M897.0,286.6 L996.6,233.6" stroke="#262626" stroke-width="0.8" fill="none" />
<path d="M880.0,269.0 L898.0,281.0" stroke="#262626" stroke-width="0.7" fill="none" />
<path d="M925.4,249.2 L934.8,243.6 L943.5,248.2 L943.5,257.2 L934.6,262.5 L925.5,257.6 L925.5,249.2" stroke="#262626" stroke-width="0.8" fill="none" />
<path d="M925.4,249.2 L934.6,253.6 L943.9,248.2" stroke="#262626" stroke-width="0.7" fill="none" />
<path d="M934.5,253.6 L934.5,262.5" stroke="#262626" stroke-width="1" fill="none" stroke-linecap="butt"/>
<ellipse cx="939.0" cy="255.6" rx="2.2" ry="2.8" stroke="#262626" stroke-width="0.7" fill="none" transform="rotate(25 939.0 255.6)"/>
<path d="M951.4,234.9 L960.8,229.3 L969.5,233.9 L969.5,242.9 L960.6,248.2 L951.5,243.3 L951.5,234.9" stroke="#262626" stroke-width="0.8" fill="none" />
<path d="M951.4,234.9 L960.6,239.3 L969.9,233.9" stroke="#262626" stroke-width="0.7" fill="none" />
<path d="M960.5,239.3 L960.5,248.2" stroke="#262626" stroke-width="1" fill="none" stroke-linecap="butt"/>
<ellipse cx="965.0" cy="241.3" rx="2.2" ry="2.8" stroke="#262626" stroke-width="0.7" fill="none" transform="rotate(25 965.0 241.3)"/>
<path d="M978.3,219.8 L987.7,214.2 L996.5,218.8 L996.5,227.8 L987.5,233.1 L978.5,228.2 L978.5,219.8" stroke="#262626" stroke-width="0.8" fill="none" />
<path d="M978.3,219.8 L987.5,224.2 L996.8,218.8" stroke="#262626" stroke-width="0.7" fill="none" />
<path d="M987.5,224.2 L987.5,233.1" stroke="#262626" stroke-width="1" fill="none" stroke-linecap="butt"/>
<ellipse cx="991.9" cy="226.2" rx="2.2" ry="2.8" stroke="#262626" stroke-width="0.7" fill="none" transform="rotate(25 991.9 226.2)"/>
<path d="M954.0,218.6 L964.0,224.4" stroke="#262626" stroke-width="0.7" fill="none" />
<path d="M954.5,218.6 L954.5,230.0" stroke="#c4c4c4" stroke-width="0.7" fill="none" stroke-linecap="butt"/>
<path d="M968.0,208.6 L981.0,216.0" stroke="#262626" stroke-width="0.7" fill="none" />
<path d="M943.9,248.0 L951.4,244.6" stroke="#262626" stroke-width="0.7" fill="none" />
<path d="M868.8,87.6 L874,79.2 C875,77 876,75.8 877.6,75.2 L937.1,53.5" stroke="#262626" stroke-width="0.8" fill="none" />
<path d="M952.4,55.3 L958.8,61.2 L958.4,63.0 L890.6,88.6" stroke="#262626" stroke-width="0.8" fill="none" />
<path d="M958.2,61.6 L890.4,87.0" stroke="#262626" stroke-width="0.6" fill="none" />
<path d="M890.6,88.4 L883.0,98.6" stroke="#262626" stroke-width="0.8" fill="none" />
<path d="M888.6,88.6 L881.6,97.6" stroke="#262626" stroke-width="0.6" fill="none" />
<path d="M878.8,78.2 L887.6,85.9" stroke="#262626" stroke-width="0.7" fill="none" />
<ellipse cx="944.5" cy="50.6" rx="7.0" ry="4.1" stroke="#262626" stroke-width="0.8" fill="none"/>
<ellipse cx="944.5" cy="50.6" rx="3.3" ry="1.9" stroke="#262626" stroke-width="0.7" fill="none"/>
<path d="M937.5,50.6 L937.5,58.2 M951.5,50.6 L951.5,58.6 C950,62 946,62.8 941.8,62.4" stroke="#262626" stroke-width="0.8" fill="none" />
<path d="M915.5,76.2 L915.5,65.3 L917.0,63.6 L922.5,64.2 L922.5,75.0 L915.3,76.2" stroke="#262626" stroke-width="0.9" fill="none" />
<path d="M916.5,76.0 L916.5,65.6" stroke="#262626" stroke-width="1" fill="none" stroke-linecap="butt"/>
<ellipse cx="920.0" cy="69.2" rx="1.2" ry="1.7" stroke="#262626" stroke-width="0.7" fill="none"/>
<path d="M908.8,71.6 L915.3,67.6" stroke="#262626" stroke-width="0.7" fill="none" />
<path d="M908.8,71.6 L914.6,77.4" stroke="#262626" stroke-width="0.7" fill="none" />
<path d="M932.5,69.4 L932.5,59.4 L934.6,57.6 L941.5,58.2 L941.5,67.4" stroke="#262626" stroke-width="0.9" fill="none" />
<path d="M934.5,69.0 L934.5,59.6" stroke="#262626" stroke-width="1" fill="none" stroke-linecap="butt"/>
<ellipse cx="937.6" cy="62.4" rx="1.2" ry="1.7" stroke="#262626" stroke-width="0.7" fill="none"/>
<path d="M924.0,68.6 L931.6,66.0" stroke="#262626" stroke-width="0.7" fill="none" />
<path d="M924.0,72.6 L932.6,69.6" stroke="#262626" stroke-width="0.7" fill="none" />
<ellipse cx="928.6" cy="68.6" rx="2.2" ry="1.2" stroke="#777" stroke-width="0.6" fill="none" transform="rotate(-20 928.6 68.6)"/>
<path d="M873.5,559.4 L892.9,531.2 L895.6,530.4 L913.5,533.5 L914.1,537.6" stroke="#262626" stroke-width="0.8" fill="none" />
<path d="M913.5,534.4 L891.2,565.9 L873.5,559.8" stroke="#262626" stroke-width="0.8" fill="none" />
<path d="M873.5,559.4 L873.5,569.4 L885.5,573.5 L885.5,581.2 L905.3,585.9" stroke="#262626" stroke-width="0.8" fill="none" />
<path d="M891.2,565.9 L905.6,581.6 L908.6,583.2" stroke="#262626" stroke-width="0.7" fill="none" />
<path d="M893.4,563.0 L912.4,576.6" stroke="#262626" stroke-width="0.7" fill="none" />
<ellipse cx="897.1" cy="533.9" rx="2.9" ry="1.8" stroke="#262626" stroke-width="0.7" fill="none"/>
<ellipse cx="888.2" cy="545.9" rx="5.4" ry="3.7" stroke="#262626" stroke-width="0.8" fill="none" transform="rotate(-8 888.2 545.9)"/>
<ellipse cx="878.8" cy="560.6" rx="3.3" ry="2.3" stroke="#262626" stroke-width="0.8" fill="none"/>
<path d="M910.0,541.0 L922.0,556.4" stroke="#262626" stroke-width="0.8" fill="none" />
<path d="M907.0,543.0 L919.6,559.0" stroke="#262626" stroke-width="0.7" fill="none" />
<path d="M914.1,537.6 L910.0,541.0" stroke="#262626" stroke-width="0.8" fill="none" />
<path d="M902.5,551.4 L902.5,565.0 L897.6,569.4" stroke="#262626" stroke-width="0.8" fill="none" />
<path d="M897.5,558.6 L897.5,569.6" stroke="#262626" stroke-width="1" fill="none" stroke-linecap="butt"/>
<path d="M903.7,550.3 L914.6,562.0" stroke="#262626" stroke-width="0.7" fill="none" />
<path d="M902.0,552.4 L912.1,563.7" stroke="#262626" stroke-width="0.7" fill="none" />
<path d="M905.0,570.5 L913.0,573.8" stroke="#262626" stroke-width="0.7" fill="none" />
<ellipse cx="925.3" cy="557.8" rx="5.2" ry="4.0" stroke="#262626" stroke-width="0.8" fill="none"/>
<ellipse cx="925.6" cy="556.4" rx="3.4" ry="2.2" stroke="#777" stroke-width="0.7" fill="none"/>
<ellipse cx="919.4" cy="567.6" rx="6.2" ry="4.6" stroke="#262626" stroke-width="0.8" fill="none"/>
<ellipse cx="919.4" cy="567.6" rx="3.4" ry="2.4" stroke="#262626" stroke-width="0.7" fill="none"/>
<ellipse cx="909.0" cy="567.0" rx="3.6" ry="3.0" stroke="#262626" stroke-width="0.7" fill="none"/>
<path d="M907,574.6 C912,576.8 920,576 925,572" stroke="#262626" stroke-width="0.7" fill="none" />
<path d="M931.0,563.0 L941.6,565.0" stroke="#262626" stroke-width="0.7" fill="none" />
<ellipse cx="918.8" cy="582.2" rx="3.4" ry="2.2" stroke="#262626" stroke-width="0.7" fill="none"/>
<path d="M932.4,558.8 C938,561.6 943,567 944.2,574 C945,580 943.6,585 940.6,589 C934,596 922,597.2 912,596 C904,594.6 897.6,590.6 894.7,585.6" stroke="#262626" stroke-width="0.8" fill="none" />
<path d="M940.0,565.0 L927.0,584.0 L937.0,587.4 L940.4,586.0" stroke="#262626" stroke-width="0.7" fill="none" />
<path d="M931.2,577.6 L932.8,576.6 L937.6,586.2 L936.4,586.8 Z" fill="#444" stroke="#333" stroke-width="0.5"/>
<path d="M905.3,585.9 L927.0,584.2" stroke="#262626" stroke-width="0.7" fill="none" />
<path d="M895.5,586 V638.4" stroke="#262626" stroke-width="1" fill="none" stroke-linecap="butt"/>
<path d="M895.5,638.4 C896.4,643.6 900,647.6 904.6,650.4 L908.8,652 C914,653 924,653 929.6,651.8 L933.6,650.2 C938.6,647.4 941.8,643.4 942.5,638.4" stroke="#262626" stroke-width="0.9" fill="none" />
<path d="M942.5,638.4 V584" stroke="#b4b4b4" stroke-width="1" fill="none" stroke-linecap="butt"/>
<path d="M904.6,649 C910,651.4 914,651.6 919,651.6 C924,651.6 929,651.2 933.6,649" stroke="#262626" stroke-width="0.6" fill="none" />
<clipPath id="c1"><path d="M0,-15.00 H9.00 V-2.42 H5.42 V3 H3.44 V-2.42 H0 Z"/></clipPath>
<g transform="translate(924.30 373.00)"><text class="n" font-size="15.0" clip-path="url(#c1)">1</text></g>
<text transform="translate(996.37 416.00) scale(1.152 1)" class="n" font-size="14.29">2</text>
<text transform="translate(966.60 400.00) scale(1.107 1)" class="n" font-size="14.29">3</text>
<text transform="translate(1096.34 306.00) scale(1.086 1)" class="n" font-size="14.43">4</text>
<text transform="translate(1092.56 226.00) scale(1.1 1)" class="n" font-size="14.57">5</text>
<text transform="translate(1067.37 242.00) scale(1.035 1)" class="n" font-size="15.71">6</text>
<text transform="translate(659.36 493.00) scale(1.278 1)" class="n" font-size="14.29">7</text>
<text transform="translate(659.51 432.00) scale(1.104 1)" class="n" font-size="14.29">8</text>
<text transform="translate(674.55 560.00) scale(1.01 1)" class="n" font-size="15.86">9</text>
<clipPath id="c2"><path d="M0,-15.86 H9.52 V-2.56 H5.73 V3 H3.64 V-2.56 H0 Z"/></clipPath>
<g transform="translate(666.31 616.00)"><text class="n" font-size="15.86" clip-path="url(#c2)">1</text></g>
<text transform="translate(674.70 616.00) scale(0.976 1)" class="n" font-size="15.86">0</text>
<clipPath id="c3"><path d="M0,-16.00 H9.60 V-2.58 H5.78 V3 H3.67 V-2.58 H0 Z"/></clipPath>
<g transform="translate(666.26 591.00)"><text class="n" font-size="16.0" clip-path="url(#c3)">1</text></g>
<clipPath id="c4"><path d="M0,-16.00 H9.60 V-2.58 H5.78 V3 H3.67 V-2.58 H0 Z"/></clipPath>
<g transform="translate(673.46 591.00)"><text class="n" font-size="16.0" clip-path="url(#c4)">1</text></g>
<clipPath id="c5"><path d="M0,-16.00 H9.60 V-2.58 H5.78 V3 H3.67 V-2.58 H0 Z"/></clipPath>
<g transform="translate(649.46 465.00)"><text class="n" font-size="16.0" clip-path="url(#c5)">1</text></g>
<text transform="translate(657.37 465.00) scale(1.029 1)" class="n" font-size="16.0">2</text>
<clipPath id="c6"><path d="M0,-15.86 H9.52 V-2.56 H5.73 V3 H3.64 V-2.56 H0 Z"/></clipPath>
<g transform="translate(828.31 501.00)"><text class="n" font-size="15.86" clip-path="url(#c6)">1</text></g>
<text transform="translate(835.70 501.00) scale(0.997 1)" class="n" font-size="15.86">3</text>
<clipPath id="c7"><path d="M0,-16.00 H9.60 V-2.58 H5.78 V3 H3.67 V-2.58 H0 Z"/></clipPath>
<g transform="translate(828.26 526.00)"><text class="n" font-size="16.0" clip-path="url(#c7)">1</text></g>
<text transform="translate(835.96 526.00) scale(0.918 1)" class="n" font-size="16.0">4</text>
<text transform="translate(893.2 367.9) scale(1.172 1)" class="w" font-size="14.3">manuals-komatsu.com</text>
<text transform="translate(1031.6 107.6) scale(1 1.12)" class="j" font-size="8" letter-spacing="5.9" fill="#333">適用号機</text>
<text transform="translate(1029.6 119.4) scale(1 1.26)" class="m" font-size="7.6" letter-spacing="1.16" fill="#444">Serial No.1055</text>
<text transform="translate(1111.6 117.4) scale(1 1.0)" class="j" font-size="8.5" letter-spacing="0" fill="#333">～</text>
<text transform="translate(864.7 137.3) scale(1 1.65)" class="j" font-size="6.6" letter-spacing="1.84" fill="#3a3a3a">エアークリーナブラケット</text>
<text transform="translate(859.9 148.3) scale(1 1.26)" class="m" font-size="7.6" letter-spacing="1.16" fill="#444">Air Cleaner Bracket</text>
<text transform="translate(1016.8 167.6) scale(1 1.12)" class="j" font-size="7.5" letter-spacing="0" fill="#333">第</text>
<text transform="translate(1026.8 167.0) scale(1 1.26)" class="m" font-size="7.6" letter-spacing="1.16" fill="#444">A4110-01A0</text>
<text transform="translate(1087.6 167.6) scale(1 1.12)" class="j" font-size="7.5" letter-spacing="3.9" fill="#333">図参照</text>
<text transform="translate(1015.4 178.3) scale(1 1.26)" class="m" font-size="7.6" letter-spacing="1.16" fill="#444">See Fig.A4110-01A0</text>
<text transform="translate(672.9 646.5) scale(1 1.12)" class="j" font-size="8" letter-spacing="5.9" fill="#333">適用号機</text>
<text transform="translate(670.8 657.3) scale(1 1.26)" class="m" font-size="7.6" letter-spacing="1.16" fill="#444">Serial No.1181</text>
<text transform="translate(752.8 655.2) scale(1 1.0)" class="j" font-size="8.5" letter-spacing="0" fill="#333">～</text>
<text transform="translate(889.6 667.6) scale(1 1.5)" class="j" font-size="6.6" letter-spacing="1.84" fill="#3a3a3a">フュエルフィルタ</text>
<text transform="translate(890.4 678.3) scale(1 1.26)" class="m" font-size="7.6" letter-spacing="1.16" fill="#444">Fuel Filter</text>
<text transform="translate(1094.8 691.2) scale(1 1.1)" class="m" font-size="6" letter-spacing="3.5" fill="#222" font-weight="bold">PF03849A</text>
<rect x="1095.3" y="45" width="0.9" height="0.9" fill="#555"/>
<rect x="1103.7" y="45" width="0.9" height="0.9" fill="#555"/>
<rect x="1110.0" y="45" width="0.9" height="0.9" fill="#555"/>
<rect x="1116.5" y="45" width="0.9" height="0.9" fill="#555"/>
<rect x="1119.0" y="45" width="0.9" height="0.9" fill="#555"/>
<rect x="1124.5" y="45" width="0.9" height="0.9" fill="#555"/>
<rect x="1128.0" y="45" width="0.9" height="0.9" fill="#555"/>
<rect x="1132.5" y="45" width="0.9" height="0.9" fill="#555"/>
<rect x="1139.0" y="45" width="0.9" height="0.9" fill="#555"/>
<rect x="1142.0" y="45" width="0.9" height="0.9" fill="#555"/>
<rect x="1145.3" y="45" width="0.9" height="0.9" fill="#555"/>
<rect x="1147.7" y="45" width="0.9" height="0.9" fill="#555"/>
</svg>
</div>
</body></html>
